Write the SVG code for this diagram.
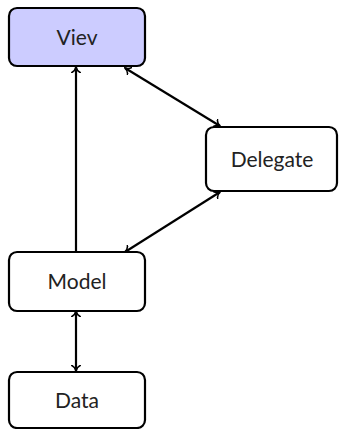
<svg xmlns="http://www.w3.org/2000/svg" width="339" height="429" viewBox="0 0 339 429">
<style>
.box{fill:#fff;stroke:#000;stroke-width:2.2}
.lbl{font-family:Lato,"Open Sans",sans-serif;font-size:21px;fill:#222;text-anchor:middle}
.c{stroke:#000;stroke-width:2.2;fill:none;marker-end:url(#ah)}
.d{marker-start:url(#ah)}
</style>
<defs>
<marker id="ah" viewBox="-6 -5 7 10" markerWidth="7" markerHeight="10" refX="0" refY="0" orient="auto-start-reverse" markerUnits="userSpaceOnUse">
<path d="M-5.5,-4.2 C-4.5,-1.8 -1.5,-0.4 0,0 C-1.5,0.4 -4.5,1.8 -5.5,4.2" fill="none" stroke="#000" stroke-width="1.6" stroke-linecap="round"/>
</marker>
</defs>
<g id="connectors">
<line class="c" x1="76" y1="252" x2="76" y2="67"/>
<line class="c d" x1="125" y1="68" x2="220" y2="126"/>
<line class="c d" x1="220" y1="192" x2="125" y2="252"/>
<line class="c d" x1="76" y1="311" x2="76" y2="371"/>
</g>
<g id="view">
<rect class="box" x="9" y="8" width="136" height="58" rx="8" style="fill:#ccccff"/>
<text class="lbl" x="77" y="45">Viev</text>
</g>
<g id="delegate">
<rect class="box" x="206" y="127" width="131" height="64" rx="8"/>
<text class="lbl" x="272" y="166.5">Delegate</text>
</g>
<g id="model">
<rect class="box" x="9" y="252" width="136" height="59" rx="8"/>
<text class="lbl" x="77" y="289">Model</text>
</g>
<g id="data">
<rect class="box" x="9" y="372" width="136" height="56" rx="8"/>
<text class="lbl" x="77" y="408">Data</text>
</g>
</svg>
